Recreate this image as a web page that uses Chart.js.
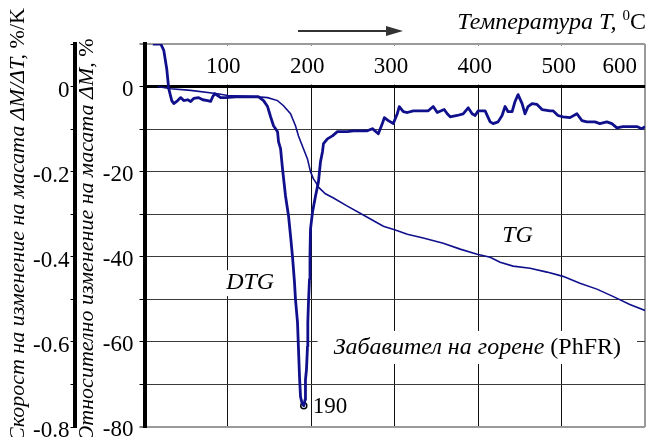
<!DOCTYPE html>
<html>
<head>
<meta charset="utf-8">
<script src="https://cdn.jsdelivr.net/npm/chart.js@4.4.0/dist/chart.umd.min.js"></script>
<style>
  html, body { margin: 0; padding: 0; background: #fff; }
  canvas { display: block; }
</style>
</head>
<body>
<canvas id="tga" width="651" height="437"></canvas>
<script>
// TG: относително изменение на масата, %
const tgTemp = [15.5, 31.3, 55.1, 87.3, 99.2, 134.9, 146.8, 158.7, 165.8, 174.2,
  180.1, 183.7, 189.6, 194.4, 198, 201.5, 204, 207.5, 209.9, 215.8,
  225.4, 242, 265.8, 284.9, 299.2, 313.5, 332.5, 356.3, 376.5, 396.8,
  412.3, 424.2, 439.6, 459.9, 480.1, 499.2, 519.4, 539.6, 558.7, 578.9, 597];
const tgMass = [0, -0.5, -0.9, -1.7, -2.1, -2.4, -2.6, -3.3, -4.5, -6.4,
  -9.2, -11.6, -14.6, -17, -20, -21.7, -22.4, -23.6, -24.1, -25.2,
  -26.2, -28.1, -30.7, -32.8, -33.7, -34.7, -35.6, -36.8, -38.2, -39.4,
  -40.1, -41.3, -42.2, -42.7, -43.6, -44.6, -46.2, -47.6, -49.3, -51.2, -52.6];

// DTG: скорост на изменение на масата, %/K
const dtgTemp = [9.9, 19.4, 23, 26.5, 28.9, 32.5, 34.9, 39.6, 43.2, 46.8,
  51.5, 55.1, 58.7, 64.6, 69.4, 75.4, 78.9, 81.3, 83.7, 87.3,
  90.8, 96.8, 108.7, 123, 136.1, 142, 146.8, 150.4, 153.9, 158.7,
  159.9, 162.3, 164.6, 168.2, 171.8, 174.2, 176.5, 177.7, 178.9, 180.1,
  182.5, 183.7, 184.9, 186.1, 187.8, 190, 191.5, 192, 193.2, 194.4,
  194.8, 195.6, 196.8, 197.4, 198, 200.4, 204, 207.5, 209.9, 212.3,
  213.5, 218.2, 224.2, 230.1, 242, 249.2, 265.8, 271.8, 278.9, 283.7,
  286.1, 290.8, 296.8, 301.5, 303.9, 308.7, 313.5, 320.6, 338.5, 344.4,
  349.2, 353.9, 357.5, 361.1, 364.6, 373, 380.1, 386.1, 390.8, 394.4,
  398, 406.3, 412.3, 415.8, 421.8, 426.5, 430.1, 433.7, 438.5, 442,
  445.6, 450.4, 453.9, 457.5, 462.3, 468.2, 474.2, 483.7, 487.3, 493.2,
  499.2, 507.5, 515.8, 521.8, 527.7, 537.3, 543.2, 551.5, 557.5, 563.5,
  570.6, 587.3, 593.2, 597];
const dtgRate = [0.1, 0.1, 0.085, 0.042, -0.005, -0.033, -0.04, -0.033, -0.026, -0.033,
  -0.031, -0.035, -0.028, -0.026, -0.031, -0.033, -0.035, -0.024, -0.017, -0.021,
  -0.026, -0.026, -0.024, -0.024, -0.024, -0.033, -0.047, -0.071, -0.092, -0.106,
  -0.13, -0.146, -0.193, -0.257, -0.304, -0.351, -0.399, -0.429, -0.46, -0.5,
  -0.554, -0.618, -0.682, -0.729, -0.743, -0.75, -0.736, -0.689, -0.665, -0.611,
  -0.554, -0.507, -0.453, -0.394, -0.335, -0.295, -0.257, -0.224, -0.177, -0.153,
  -0.134, -0.123, -0.116, -0.106, -0.106, -0.104, -0.104, -0.099, -0.111, -0.087,
  -0.073, -0.08, -0.087, -0.064, -0.047, -0.059, -0.061, -0.057, -0.057, -0.047,
  -0.061, -0.057, -0.054, -0.064, -0.071, -0.068, -0.064, -0.05, -0.064, -0.068,
  -0.057, -0.057, -0.083, -0.087, -0.083, -0.068, -0.047, -0.059, -0.059, -0.035,
  -0.019, -0.04, -0.064, -0.047, -0.04, -0.042, -0.054, -0.057, -0.057, -0.068,
  -0.071, -0.073, -0.064, -0.08, -0.083, -0.083, -0.087, -0.083, -0.087, -0.097,
  -0.094, -0.094, -0.099, -0.094];

// пик на DTG
const peakTemp = 190;
const peakRate = -0.75;

// надписи по температурната ос
const tempLabels = [100, 200, 300, 400, 500, 600];

const serif = "'Liberation Serif', 'Times New Roman', serif";
const ink = '#10108c';

Chart.defaults.font.family = serif;
Chart.defaults.color = '#000';

// текст от няколко части (курсив / прав), връща общата ширина
function runsWidth(ctx, runs) {
  let w = 0;
  runs.forEach(r => { ctx.font = r.font; w += ctx.measureText(r.text).width; });
  return w;
}
function drawRuns(ctx, runs, x, y) {
  runs.forEach(r => {
    ctx.font = r.font;
    ctx.fillText(r.text, x, y + (r.dy || 0));
    x += ctx.measureText(r.text).width;
  });
}

const it22 = `italic 22px ${serif}`;
const up22 = `22px ${serif}`;
const it24 = `italic 24px ${serif}`;
const up24 = `24px ${serif}`;

const tgaDecor = {
  id: 'tgaDecor',
  beforeDatasetsDraw(chart) {
    const { ctx, chartArea: a, scales } = chart;
    const x = scales.x, y = scales.yTG;
    const y0 = y.getPixelForValue(0);
    ctx.save();
    // над нулевата линия няма вертикална мрежа
    ctx.fillStyle = '#fff';
    ctx.fillRect(a.left + 3, a.top + 1.5, a.right - a.left - 4.5, y0 - a.top - 3.5);

    ctx.fillStyle = '#000';
    ctx.textBaseline = 'middle';
    ctx.textAlign = 'center';
    ctx.font = `23px ${serif}`;
    const ly = (a.top + y0) / 2 + 2;
    tempLabels.forEach(t => {
      const s = String(t);
      const w = ctx.measureText(s).width;
      const cx = Math.min(x.getPixelForValue(t) - 5, a.right - 8 - w / 2);
      ctx.fillText(s, cx, ly);
    });

    // надписи с бял фон
    ctx.textAlign = 'left';
    ctx.textBaseline = 'middle';
    const boxed = (runs, cx, cy, padX, h) => {
      const w = runsWidth(ctx, runs);
      ctx.fillStyle = '#fff';
      ctx.fillRect(cx - w / 2 - padX, cy - h / 2, w + 2 * padX, h);
      ctx.fillStyle = '#000';
      drawRuns(ctx, runs, cx - w / 2, cy);
    };
    boxed([{ text: 'DTG', font: it24 }], x.getPixelForValue(126), y.getPixelForValue(-46.2), 4, 26);
    boxed([{ text: 'TG', font: it24 }], x.getPixelForValue(445), y.getPixelForValue(-35), 0, 0);
    boxed([{ text: 'Забавител на горене ', font: it24 }, { text: '(PhFR)', font: up24 }],
      x.getPixelForValue(397), y.getPixelForValue(-61.3), 16, 33);
    ctx.restore();
  },
  afterDraw(chart) {
    const { ctx, scales, chartArea: a } = chart;
    const x = scales.x, yd = scales.yDTG;
    ctx.save();
    ctx.fillStyle = '#000';
    ctx.textBaseline = 'middle';
    ctx.textAlign = 'left';
    ctx.font = `23px ${serif}`;
    ctx.fillText(String(peakTemp), x.getPixelForValue(peakTemp) + 9, yd.getPixelForValue(peakRate) + 1);

    // заглавие на температурната ос със стрелка
    ctx.textBaseline = 'alphabetic';
    const tRuns = [
      { text: 'Температура T, ', font: it24 },
      { text: '0', font: `15px ${serif}`, dy: -9 },
      { text: 'C', font: up24 }
    ];
    drawRuns(ctx, tRuns, a.right + 1 - runsWidth(ctx, tRuns), 29);

    ctx.strokeStyle = '#333';
    ctx.lineWidth = 2;
    ctx.beginPath();
    ctx.moveTo(298, 31);
    ctx.lineTo(390, 31);
    ctx.stroke();
    ctx.fillStyle = '#333';
    ctx.beginPath();
    ctx.moveTo(403, 31);
    ctx.lineTo(386, 26);
    ctx.lineTo(386, 36);
    ctx.closePath();
    ctx.fill();

    // заглавия на двете вертикални оси
    ctx.fillStyle = '#000';
    const vTitle = (runs, bx, cy) => {
      ctx.save();
      ctx.translate(bx, cy);
      ctx.rotate(-Math.PI / 2);
      drawRuns(ctx, runs, -runsWidth(ctx, runs) / 2, 0);
      ctx.restore();
    };
    vTitle([{ text: 'Скорост на изменение на масата ΔM/ΔT, ', font: it22 }, { text: '%/K', font: up22 }], 24, 225);
    vTitle([{ text: 'Относително изменение на масата ΔM, ', font: it22 }, { text: '%', font: up22 }], 93, 240);
    ctx.restore();
  }
};

new Chart(document.getElementById('tga'), {
  type: 'line',
  data: {
    datasets: [
      {
        label: 'TG',
        data: tgTemp.map((t, i) => ({ x: t, y: tgMass[i] })),
        yAxisID: 'yTG',
        borderColor: ink, borderWidth: 1.6,
        pointRadius: 0, tension: 0
      },
      {
        label: 'DTG',
        data: dtgTemp.map((t, i) => ({ x: t, y: dtgRate[i] })),
        yAxisID: 'yDTG',
        borderColor: ink, borderWidth: 2.8, borderJoinStyle: 'round',
        pointRadius: 0, tension: 0
      },
      {
        label: 'peak',
        data: [{ x: peakTemp, y: peakRate }],
        yAxisID: 'yDTG',
        showLine: false,
        pointRadius: 3, pointBorderWidth: 1.5,
        pointBorderColor: '#000', pointBackgroundColor: '#fff'
      }
    ]
  },
  options: {
    responsive: false,
    animation: false,
    devicePixelRatio: 1,
    layout: { padding: { top: 44, right: 6, bottom: 10, left: 0 } },
    plugins: { legend: { display: false }, tooltip: { enabled: false } },
    scales: {
      x: {
        type: 'linear', min: 0, max: 597,
        ticks: { display: false, stepSize: 100 },
        grid: {
          drawTicks: false,
          color: c => c.tick.value >= 597 ? '#9a9a9a' : (c.tick.value === 0 ? 'rgba(0,0,0,0)' : '#111'),
          lineWidth: c => c.tick.value >= 597 ? 2 : 1
        },
        border: { display: false }
      },
      yTG: {
        position: 'left', weight: 0,
        min: -80, max: 10,
        ticks: {
          stepSize: 10, padding: 6, labelOffset: 3,
          font: { size: 23 },
          callback: v => (v <= 0 && v % 20 === 0) ? String(v) : ''
        },
        grid: {
          tickLength: 5, tickColor: '#000', tickWidth: 1,
          color: c => c.tick.value === 0 ? '#000' : ((c.tick.value === 10 || c.tick.value === -80) ? '#9a9a9a' : '#3a3a3a'),
          lineWidth: c => c.tick.value === 0 ? 3 : ((c.tick.value === 10 || c.tick.value === -80) ? 2 : 1)
        },
        border: { color: '#000', width: 4 },
        afterFit: s => { s.width = 70; s.paddingTop = 0; s.paddingBottom = 0; }
      },
      yDTG: {
        position: 'left', weight: 1,
        min: -0.8, max: 0.1,
        ticks: {
          stepSize: 0.1, padding: 1, labelOffset: 4,
          font: { size: 23 },
          callback: v => {
            const k = Math.round(v * 10);
            if (k > 0 || k % 2 !== 0) return '';
            return k === 0 ? '0' : (k / 10).toFixed(1);
          }
        },
        grid: { drawOnChartArea: false, tickLength: 4, tickColor: '#000', tickWidth: 1 },
        border: { color: '#000', width: 4 },
        afterFit: s => { s.width = 74.5; s.paddingTop = 0; s.paddingBottom = 0; }
      }
    }
  },
  plugins: [tgaDecor]
});
</script>
</body>
</html>
